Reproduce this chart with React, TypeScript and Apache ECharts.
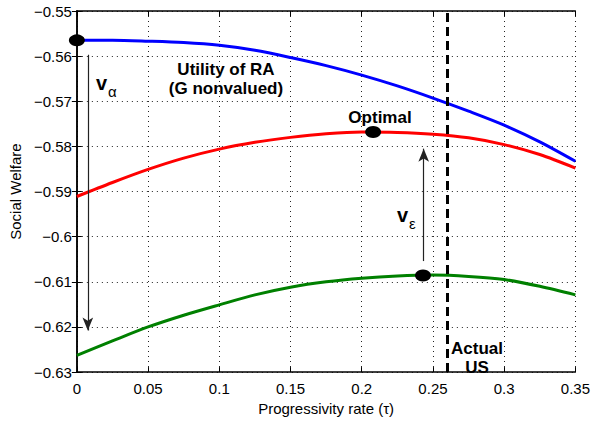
import React, { useEffect, useRef } from "react";
import * as echarts from "echarts";

const taus = [0, 0.025, 0.05, 0.075, 0.1, 0.125, 0.15, 0.175, 0.2, 0.225, 0.25, 0.275, 0.3, 0.325, 0.35];
const blueRA = [-0.5565, -0.5565, -0.5567, -0.557, -0.5576, -0.5587, -0.5603, -0.5621, -0.5642, -0.5666, -0.5693, -0.5722, -0.5753, -0.579, -0.5833];
const redOpt = [-0.5911, -0.588, -0.5851, -0.5826, -0.5806, -0.5791, -0.578, -0.5772, -0.5768, -0.5769, -0.5773, -0.5781, -0.5796, -0.5818, -0.5848];
const greenLow = [-0.6263, -0.6231, -0.62, -0.6174, -0.6151, -0.6129, -0.6112, -0.61, -0.6092, -0.6087, -0.6085, -0.6088, -0.6095, -0.611, -0.6129];
const dotPoints: [number, number][] = [[0, -0.5565], [0.208, -0.5768], [0.243, -0.6086]];
const actualUS = 0.259;
const arrowAlpha: [number, number][] = [[0.0077, -0.5597], [0.0077, -0.6208]];
const arrowEps: [number, number][] = [[0.2435, -0.6054], [0.2435, -0.5805]];

const FONT = "Liberation Sans";

export default function App() {
  const ref = useRef<HTMLDivElement>(null);
  useEffect(() => {
    if (!ref.current) return;
    const chart = echarts.init(ref.current, null, { renderer: "svg", width: 593, height: 421 });
    const mk = (arr: number[]) => taus.map((t, i) => [t, arr[i]]);
    const gridLine = { show: true, lineStyle: { color: "#222", type: [1, 4] as any, width: 1 } };
    const axisLine = { show: true, lineStyle: { color: "#000", width: 1.5 } };
    const tick = { show: true, inside: true, length: 5, lineStyle: { color: "#000" } };
    const labelStyle = { color: "#000", fontSize: 15, fontFamily: FONT };
    const bold = { fontSize: 17, fontWeight: "bold", fontFamily: FONT, fill: "#000" };
    chart.setOption({
      animation: false,
      backgroundColor: "#fff",
      textStyle: { fontFamily: FONT },
      grid: { left: 74, right: 16, top: 11, bottom: 40, containLabel: false },
      xAxis: [
        {
          type: "value", min: 0, max: 0.35, interval: 0.05, position: "bottom",
          axisLine, axisTick: tick, splitLine: gridLine,
          axisLabel: { ...labelStyle, margin: 9, formatter: (v: number) => String(+v.toFixed(2)) },
          name: "Progressivity rate (τ)", nameLocation: "middle", nameGap: 25,
          nameTextStyle: { color: "#000", fontSize: 15, fontFamily: FONT },
        },
        {
          type: "value", min: 0, max: 0.35, interval: 0.05, position: "top",
          axisLine, axisTick: tick, splitLine: { show: false }, axisLabel: { show: false },
        },
      ],
      yAxis: [
        {
          type: "value", min: -0.63, max: -0.55, interval: 0.01, position: "left",
          axisLine, axisTick: tick, splitLine: gridLine,
          axisLabel: { ...labelStyle, margin: 5, formatter: (v: number) => String(+v.toFixed(2)).replace("-", "\u2212") },
          name: "Social Welfare", nameLocation: "middle", nameGap: 53, nameRotate: 90,
          nameTextStyle: { color: "#000", fontSize: 15, fontFamily: FONT },
        },
        {
          type: "value", min: -0.63, max: -0.55, interval: 0.01, position: "right",
          axisLine, axisTick: tick, splitLine: { show: false }, axisLabel: { show: false },
        },
      ],
      series: [
        {
          type: "line", data: mk(blueRA), smooth: 0.3, showSymbol: false,
          lineStyle: { color: "#0000ff", width: 3 }, z: 3,
        },
        {
          type: "line", data: mk(redOpt), smooth: 0.3, showSymbol: false,
          lineStyle: { color: "#ff0000", width: 3 }, z: 3,
        },
        {
          type: "line", data: mk(greenLow), smooth: 0.3, showSymbol: false,
          lineStyle: { color: "#008000", width: 3 }, z: 3,
          markLine: {
            silent: true, symbol: ["none", "none"], label: { show: false },
            lineStyle: { color: "#000", width: 3, type: [9, 5] },
            data: [{ xAxis: actualUS }],
          },
        },
        {
          type: "line", data: [], silent: true,
          markLine: {
            silent: true, symbol: ["none", "arrow"], symbolSize: [8, 13], label: { show: false },
            lineStyle: { color: "#222", width: 1.2, type: "solid" },
            data: [
              [{ coord: arrowAlpha[0] }, { coord: arrowAlpha[1] }],
              [{ coord: arrowEps[0] }, { coord: arrowEps[1] }],
            ],
          },
        },
        {
          type: "scatter", data: dotPoints, symbol: "circle", symbolSize: [16, 12],
          itemStyle: { color: "#000", opacity: 1 }, z: 5,
        },
      ],
      graphic: [
        {
          type: "text", x: 96, y: 83,
          style: {
            text: "{v|v}{a|α}", verticalAlign: "middle",
            rich: {
              v: { fontSize: 20, fontWeight: "bold", fontFamily: FONT, fill: "#000" },
              a: { fontSize: 15, fontFamily: FONT, fill: "#000", padding: [16, 0, 0, 1] },
            },
          },
        },
        { type: "text", x: 226, y: 69, style: { text: "Utility of RA", align: "center", verticalAlign: "middle", ...bold } },
        { type: "text", x: 226, y: 88, style: { text: "(G nonvalued)", align: "center", verticalAlign: "middle", ...bold } },
        { type: "text", x: 380, y: 117, style: { text: "Optimal", align: "center", verticalAlign: "middle", ...bold } },
        {
          type: "text", x: 397, y: 215,
          style: {
            text: "{v|v}{a|ε}", verticalAlign: "middle",
            rich: {
              v: { fontSize: 20, fontWeight: "bold", fontFamily: FONT, fill: "#000" },
              a: { fontSize: 15, fontFamily: FONT, fill: "#000", padding: [16, 0, 0, 1] },
            },
          },
        },
        { type: "text", x: 477, y: 348, style: { text: "Actual", align: "center", verticalAlign: "middle", ...bold } },
        { type: "text", x: 477, y: 367, style: { text: "US", align: "center", verticalAlign: "middle", ...bold } },
      ],
    });
    return () => chart.dispose();
  }, []);
  return (
    <div
      ref={ref}
      style={{ position: "fixed", left: 0, top: 0, width: 593, height: 421, overflow: "hidden", background: "#fff" }}
    />
  );
}
